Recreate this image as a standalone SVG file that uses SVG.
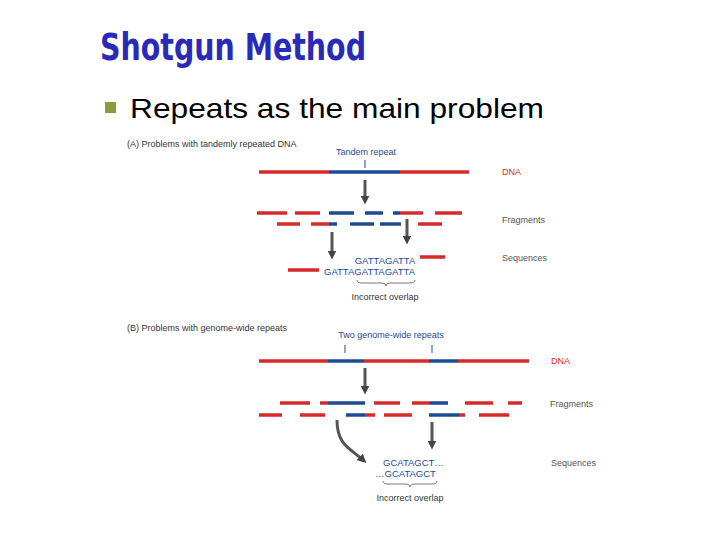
<svg xmlns="http://www.w3.org/2000/svg" width="720" height="540" viewBox="0 0 720 540">
<defs>
<style>
.r{stroke:#d62a2a;stroke-width:3.5}
.b{stroke:#1c4a94;stroke-width:3.5}
.t{font-family:"Liberation Sans",Arial,sans-serif;font-size:9px;fill:#333}
.lb{font-family:"Liberation Sans",Arial,sans-serif;font-size:9px;fill:#555}
.bl{font-family:"Liberation Sans",Arial,sans-serif;fill:#1c4a94}
.ar{stroke:#555;stroke-width:3;fill:none}
.tk{stroke:#1c4a94;stroke-width:1}
.br{stroke:#555;stroke-width:0.8;fill:none}
</style>
<marker id="ah" viewBox="0 0 10 10" refX="5" refY="5" markerWidth="3" markerHeight="3" orient="auto"><path d="M0,0L10,5L0,10z" fill="#444"/></marker>
</defs>
<rect width="720" height="540" fill="#fff"/>
<g id="header">
<text x="100" y="60" font-family="Liberation Sans Narrow,DejaVu Sans Condensed,sans-serif" font-weight="bold" font-size="37" fill="#2a2ab8" textLength="266" lengthAdjust="spacingAndGlyphs">Shotgun Method</text>
<rect x="105" y="102" width="11" height="11" fill="#8c9a3c"/>
<text x="130" y="118" font-family="Liberation Sans,Arial,sans-serif" font-size="28" fill="#000" textLength="414" lengthAdjust="spacingAndGlyphs">Repeats as the main problem</text>
</g>
<g id="panelA">
<text class="t" x="127" y="147">(A) Problems with tandemly repeated DNA</text>
<text class="bl" x="366" y="155" font-size="9" text-anchor="middle">Tandem repeat</text>
<line class="tk" x1="365" y1="160" x2="365" y2="168"/>
<g id="dnaA"><line class="r" x1="259" y1="172" x2="329" y2="172"/><line class="b" x1="329" y1="172" x2="400" y2="172"/><line class="r" x1="400" y1="172" x2="469" y2="172"/></g>
<g id="fragA">
<line class="r" x1="257" y1="213" x2="287" y2="213"/><line class="r" x1="295" y1="213" x2="320" y2="213"/><line class="b" x1="329" y1="213" x2="354" y2="213"/><line class="b" x1="365" y1="213" x2="383" y2="213"/><line class="b" x1="393" y1="213" x2="400" y2="213"/><line class="r" x1="400" y1="213" x2="423" y2="213"/><line class="r" x1="435" y1="213" x2="462" y2="213"/>
<line class="r" x1="277" y1="224" x2="300" y2="224"/><line class="r" x1="311" y1="224" x2="329" y2="224"/><line class="b" x1="329" y1="224" x2="337" y2="224"/><line class="b" x1="350" y1="224" x2="374" y2="224"/><line class="b" x1="380" y1="224" x2="401" y2="224"/><line class="r" x1="418" y1="224" x2="442" y2="224"/>
</g>
<g id="seqA">
<line class="r" x1="420" y1="257" x2="445" y2="257"/>
<text class="bl" x="385" y="264" font-size="9.5" text-anchor="middle">GATTAGATTA</text>
<line class="r" x1="288" y1="270" x2="319" y2="270"/>
<text class="bl" x="324" y="275" font-size="9.5" textLength="91" lengthAdjust="spacingAndGlyphs">GATTAGATTAGATTA</text>
<path class="br" d="M357,280 Q357,283 362,283 L382,283 Q386,283 386,286 Q386,283 390,283 L410,283 Q415,283 415,280"/>
<text class="t" x="385" y="300" text-anchor="middle">Incorrect overlap</text>
</g>
<text x="502" y="175" font-family="Liberation Sans,Arial,sans-serif" font-size="9" fill="#d62a2a">DNA</text>
<text class="lb" x="502" y="223">Fragments</text>
<text class="lb" x="502" y="261">Sequences</text>
</g>
<g id="panelB">
<text class="t" x="127" y="331">(B) Problems with genome-wide repeats</text>
<text class="bl" x="391" y="338" font-size="9" text-anchor="middle">Two genome-wide repeats</text>
<line class="tk" x1="345" y1="345" x2="345" y2="353"/><line class="tk" x1="432" y1="345" x2="432" y2="353"/>
<g id="dnaB"><line class="r" x1="259" y1="361" x2="328" y2="361"/><line class="b" x1="328" y1="361" x2="364" y2="361"/><line class="r" x1="364" y1="361" x2="429" y2="361"/><line class="b" x1="429" y1="361" x2="458" y2="361"/><line class="r" x1="458" y1="361" x2="529" y2="361"/></g>
<g id="fragB">
<line class="r" x1="280" y1="403" x2="310" y2="403"/><line class="r" x1="320" y1="403" x2="328" y2="403"/><line class="b" x1="328" y1="403" x2="365" y2="403"/><line class="r" x1="374" y1="403" x2="400" y2="403"/><line class="r" x1="412" y1="403" x2="429" y2="403"/><line class="b" x1="429" y1="403" x2="448" y2="403"/><line class="r" x1="465" y1="403" x2="493" y2="403"/><line class="r" x1="508" y1="403" x2="522" y2="403"/>
<line class="r" x1="259" y1="415" x2="282" y2="415"/><line class="r" x1="300" y1="415" x2="325" y2="415"/><line class="b" x1="346" y1="415" x2="365" y2="415"/><line class="r" x1="365" y1="415" x2="375" y2="415"/><line class="r" x1="384" y1="415" x2="412" y2="415"/><line class="b" x1="429" y1="415" x2="459" y2="415"/><line class="r" x1="459" y1="415" x2="465" y2="415"/><line class="r" x1="479" y1="415" x2="509" y2="415"/>
</g>
<g id="seqB">
<text class="bl" x="383" y="466" font-size="9.5">GCATAGCT…</text>
<text class="bl" x="375" y="477" font-size="9.5">…GCATAGCT</text>
<path class="br" d="M383,481 Q383,484 388,484 L405,484 Q410,484 410,487 Q410,484 415,484 L432,484 Q437,484 437,481"/>
<text class="t" x="410" y="501" text-anchor="middle">Incorrect overlap</text>
</g>
<text x="551" y="364" font-family="Liberation Sans,Arial,sans-serif" font-size="9" fill="#d62a2a">DNA</text>
<text class="lb" x="550" y="407">Fragments</text>
<text class="lb" x="551" y="466">Sequences</text>
</g>
<g id="connectors">
<line class="ar" x1="365" y1="180" x2="365" y2="200" marker-end="url(#ah)"/>
<line class="ar" x1="332" y1="232" x2="332" y2="255" marker-end="url(#ah)"/>
<line class="ar" x1="407" y1="219" x2="407" y2="240" marker-end="url(#ah)"/>
<line class="ar" x1="365" y1="368" x2="365" y2="390" marker-end="url(#ah)"/>
<line class="ar" x1="432" y1="422" x2="432" y2="445" marker-end="url(#ah)"/>
<path class="ar" d="M337,420 C337,445 350,448 363,460" marker-end="url(#ah)"/>
</g>
</svg>
